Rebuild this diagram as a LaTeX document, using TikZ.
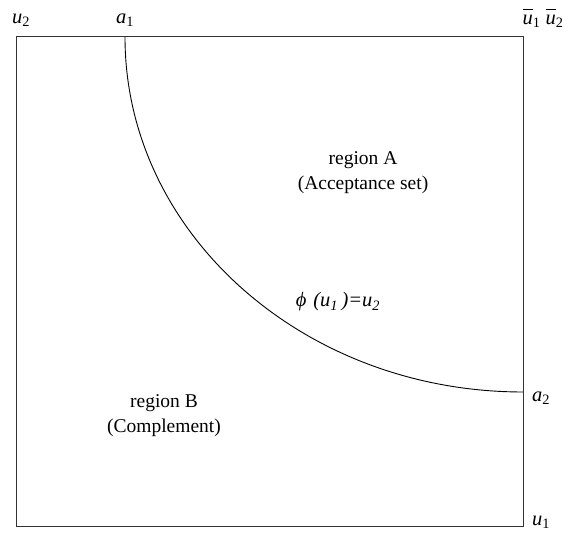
\documentclass[tikz,border=0pt]{standalone}
\usepackage{fontspec}
\setmainfont{Liberation Serif}
\usepackage{tikz}
\usetikzlibrary{positioning}
\newcommand{\vsym}[2]{\textit{#1}\textsubscript{#2}}
\newcommand{\barsym}[2]{$\overline{\vphantom{A}\mbox{\textit{#1}}}$\textsubscript{#2}}

\begin{document}
\begin{tikzpicture}[x=1pt, y=1pt,
    regionlabel/.style={align=center, font=\fontsize{19.5}{25}\selectfont, inner sep=0pt},
    cornerlabel/.style={font=\fontsize{20.5}{24}\selectfont, inner sep=0pt},
    frame/.style={draw=black!80, line width=1pt},
    boundary/.style={draw=black, line width=0.9pt}]
    \useasboundingbox (0,0) rectangle (564,534);
    \draw[frame] (16,7) rectangle (523,497);
    \coordinate (arcstart) at (125,497);
    \draw[boundary] (arcstart) arc[start angle=180, end angle=270, x radius=398, y radius=355]
      coordinate (arcend);
    \node[cornerlabel] (u2) at (21,514) {\vsym{u}{2}};
    \node[cornerlabel] (a1) at (125,514) {\vsym{a}{1}};
    \node[cornerlabel] (ubar) at (543,516) {\barsym{u}{1} \barsym{u}{2}};
    \node[cornerlabel] (a2) at (541,136) {\vsym{a}{2}};
    \node[cornerlabel] (u1) at (541,12) {\vsym{u}{1}};
    \node[cornerlabel] (phi) at (338,232) {\textit{ϕ\,\,(u\textsubscript{1}\,)=u\textsubscript{2}}};
    \node[regionlabel] (regA) at (363,361) {region A\\(Acceptance set)};
    \node[regionlabel] (regB) at (164,118) {region B\\(Complement)};
  \end{tikzpicture}
\end{document}
